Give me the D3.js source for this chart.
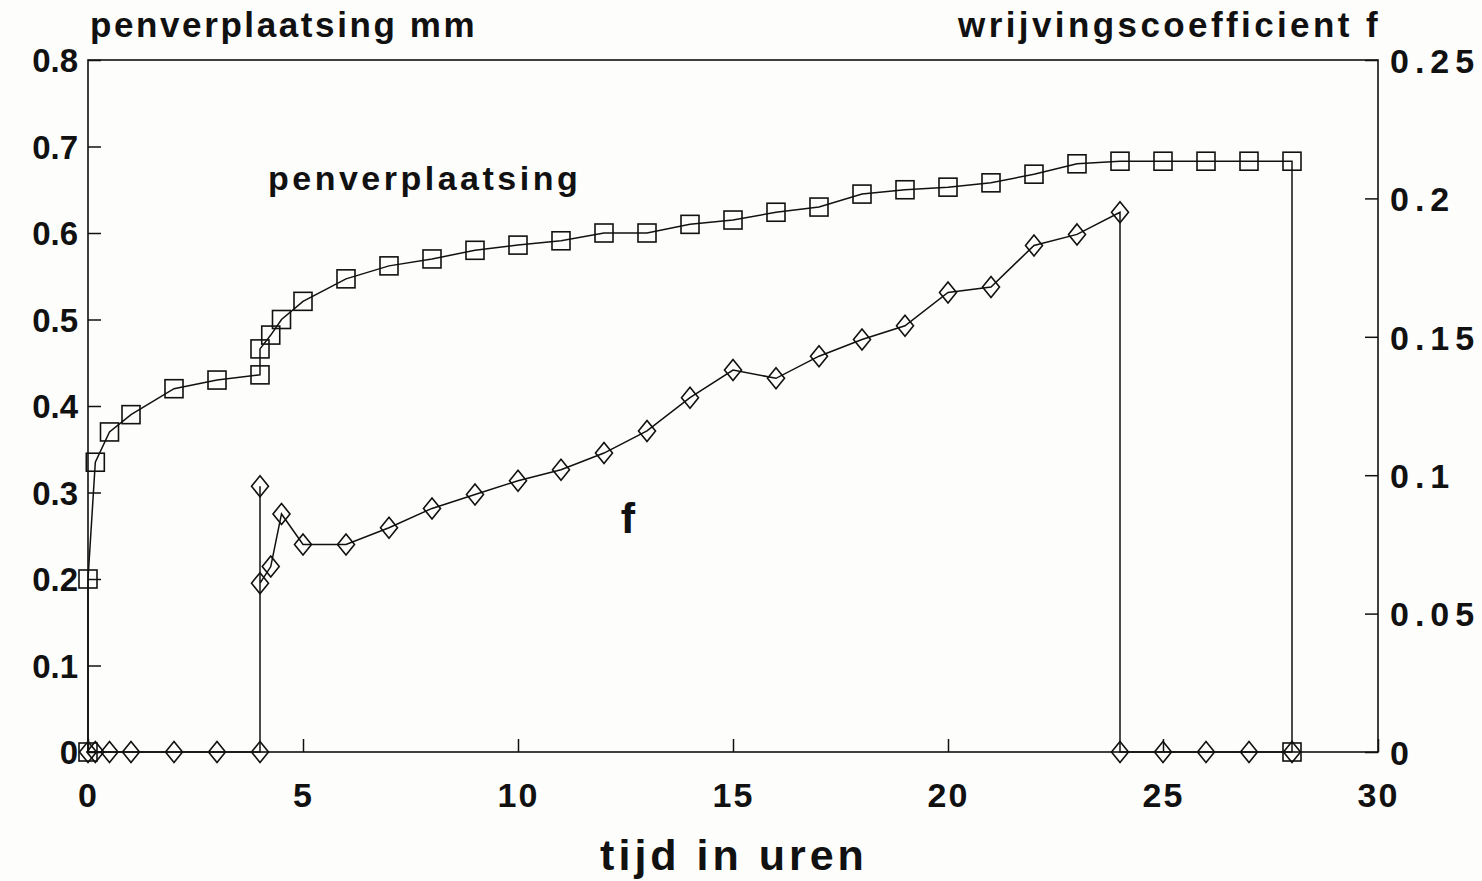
<!DOCTYPE html>
<html>
<head>
<meta charset="utf-8">
<script src="https://cdn.jsdelivr.net/npm/d3@7"></script>
<style>
  html, body { margin: 0; padding: 0; background: #fdfdfc; }
  svg { display: block; }
  text { font-family: "Liberation Sans", Arial, Helvetica, sans-serif; fill: #111; }
</style>
</head>
<body>
<svg id="chart" width="1482" height="881"></svg>
<script>
// ---- data ----
const penTime  = [0, 0, 0.17, 0.5, 1, 2, 3, 4, 4, 4.25, 4.5, 5, 6, 7, 8, 9, 10, 11, 12, 13, 14, 15, 16, 17, 18, 19, 20, 21, 22, 23, 24, 25, 26, 27, 28, 28];
const penValue = [0, 0.2, 0.335, 0.37, 0.39, 0.42, 0.43, 0.436, 0.466, 0.482, 0.5, 0.521, 0.547, 0.562, 0.57, 0.58, 0.586, 0.591, 0.6, 0.6, 0.61, 0.615, 0.624, 0.63, 0.645, 0.65, 0.653, 0.658, 0.668, 0.68, 0.683, 0.683, 0.683, 0.683, 0.683, 0];

const fTime  = [0, 0.17, 0.5, 1, 2, 3, 4, 4, 4, 4.25, 4.5, 5, 6, 7, 8, 9, 10, 11, 12, 13, 14, 15, 16, 17, 18, 19, 20, 21, 22, 23, 24, 24, 25, 26, 27, 28];
const fValue = [0, 0, 0, 0, 0, 0, 0, 0.096, 0.061, 0.067, 0.086, 0.075, 0.075, 0.081, 0.088, 0.093, 0.098, 0.102, 0.108, 0.116, 0.128, 0.138, 0.135, 0.143, 0.149, 0.154, 0.166, 0.168, 0.183, 0.187, 0.195, 0, 0, 0, 0, 0];

const xTicks = [0, 5, 10, 15, 20, 25, 30];
const xTickLabels = ["0", "5", "10", "15", "20", "25", "30"];
const yLeftTicks = [0, 0.1, 0.2, 0.3, 0.4, 0.5, 0.6, 0.7, 0.8];
const yLeftLabels = ["0", "0.1", "0.2", "0.3", "0.4", "0.5", "0.6", "0.7", "0.8"];
const yRightTicks = [0, 0.05, 0.1, 0.15, 0.2, 0.25];
const yRightLabels = ["0", "0.05", "0.1", "0.15", "0.2", "0.25"];

const leftTitle = "penverplaatsing mm";
const rightTitle = "wrijvingscoefficient f";
const xTitle = "tijd in uren";
const penLabel = "penverplaatsing";
const fLabel = "f";

// ---- layout ----
const svg = d3.select("#chart");
const m = { left: 88, right: 1378, top: 60, bottom: 752 };

const x = d3.scaleLinear().domain([0, 30]).range([m.left, m.right]);
const yL = d3.scaleLinear().domain([0, 0.8]).range([m.bottom, m.top]);
const yR = d3.scaleLinear().domain([0, 0.25]).range([m.bottom, m.top]);

// frame
svg.append("rect")
  .attr("x", m.left).attr("y", m.top)
  .attr("width", m.right - m.left).attr("height", m.bottom - m.top)
  .attr("fill", "none").attr("stroke", "#111").attr("stroke-width", 1.6);

// left axis (ticks pointing inward)
const axL = svg.append("g").attr("transform", `translate(${m.left},0)`)
  .call(d3.axisLeft(yL).tickValues(yLeftTicks).tickSizeInner(-13).tickSizeOuter(0).tickPadding(10)
    .tickFormat((d, i) => yLeftLabels[i]));
axL.select(".domain").remove();
axL.selectAll("line").attr("stroke", "#111").attr("stroke-width", 1.5);
axL.selectAll("text").attr("font-size", 33).attr("font-weight", "bold").attr("fill", "#111").attr("dy", "0.36em");

// right axis
const axR = svg.append("g").attr("transform", `translate(${m.right},0)`)
  .call(d3.axisRight(yR).tickValues(yRightTicks).tickSizeInner(-13).tickSizeOuter(0).tickPadding(12)
    .tickFormat((d, i) => yRightLabels[i]));
axR.select(".domain").remove();
axR.selectAll("line").attr("stroke", "#111").attr("stroke-width", 1.5);
axR.selectAll("text").attr("font-size", 34).attr("font-weight", "bold").attr("fill", "#111")
  .attr("dy", "0.36em").attr("letter-spacing", 6);

// bottom axis
const axB = svg.append("g").attr("transform", `translate(0,${m.bottom})`)
  .call(d3.axisBottom(x).tickValues(xTicks).tickSizeInner(-13).tickSizeOuter(0).tickPadding(43)
    .tickFormat((d, i) => xTickLabels[i]));
axB.select(".domain").remove();
axB.selectAll("line").attr("stroke", "#111").attr("stroke-width", 1.5);
axB.selectAll("text").attr("font-size", 34).attr("font-weight", "bold").attr("fill", "#111")
  .attr("dy", "0.36em").attr("letter-spacing", 2);

// titles
svg.append("text").attr("x", 90).attr("y", 37).attr("font-size", 35).attr("font-weight", "bold")
  .attr("letter-spacing", 2.6).text(leftTitle);
svg.append("text").attr("x", 1381).attr("y", 37).attr("text-anchor", "end").attr("font-size", 35)
  .attr("font-weight", "bold").attr("letter-spacing", 3.4).text(rightTitle);
svg.append("text").attr("x", 734).attr("y", 870).attr("text-anchor", "middle").attr("font-size", 43)
  .attr("font-weight", "bold").attr("letter-spacing", 4).text(xTitle);
svg.append("text").attr("x", 268).attr("y", 190).attr("font-size", 34).attr("font-weight", "bold")
  .attr("letter-spacing", 3.5).text(penLabel);
svg.append("text").attr("x", 628).attr("y", 533).attr("text-anchor", "middle").attr("font-size", 43)
  .attr("font-weight", "bold").text(fLabel);

// series
const penData = penTime.map((t, i) => ({ t, v: penValue[i] }));
const fData = fTime.map((t, i) => ({ t, v: fValue[i] }));

const linePen = d3.line().x(d => x(d.t)).y(d => yL(d.v));
const lineF = d3.line().x(d => x(d.t)).y(d => yR(d.v));

svg.append("path").datum(penData).attr("d", linePen)
  .attr("fill", "none").attr("stroke", "#111").attr("stroke-width", 1.5);
svg.append("path").datum(fData).attr("d", lineF)
  .attr("fill", "none").attr("stroke", "#111").attr("stroke-width", 1.5);

// square markers
const sq = 18;
svg.append("g").selectAll("rect").data(penData).join("rect")
  .attr("x", d => x(d.t) - sq / 2).attr("y", d => yL(d.v) - sq / 2)
  .attr("width", sq).attr("height", sq)
  .attr("fill", "none").attr("stroke", "#111").attr("stroke-width", 1.6);

// diamond markers
const dw = 8.5, dh = 10.5;
svg.append("g").selectAll("path").data(fData).join("path")
  .attr("transform", d => `translate(${x(d.t)},${yR(d.v)})`)
  .attr("d", `M0,${-dh}L${dw},0L0,${dh}L${-dw},0Z`)
  .attr("fill", "none").attr("stroke", "#111").attr("stroke-width", 1.6);
</script>
</body>
</html>
